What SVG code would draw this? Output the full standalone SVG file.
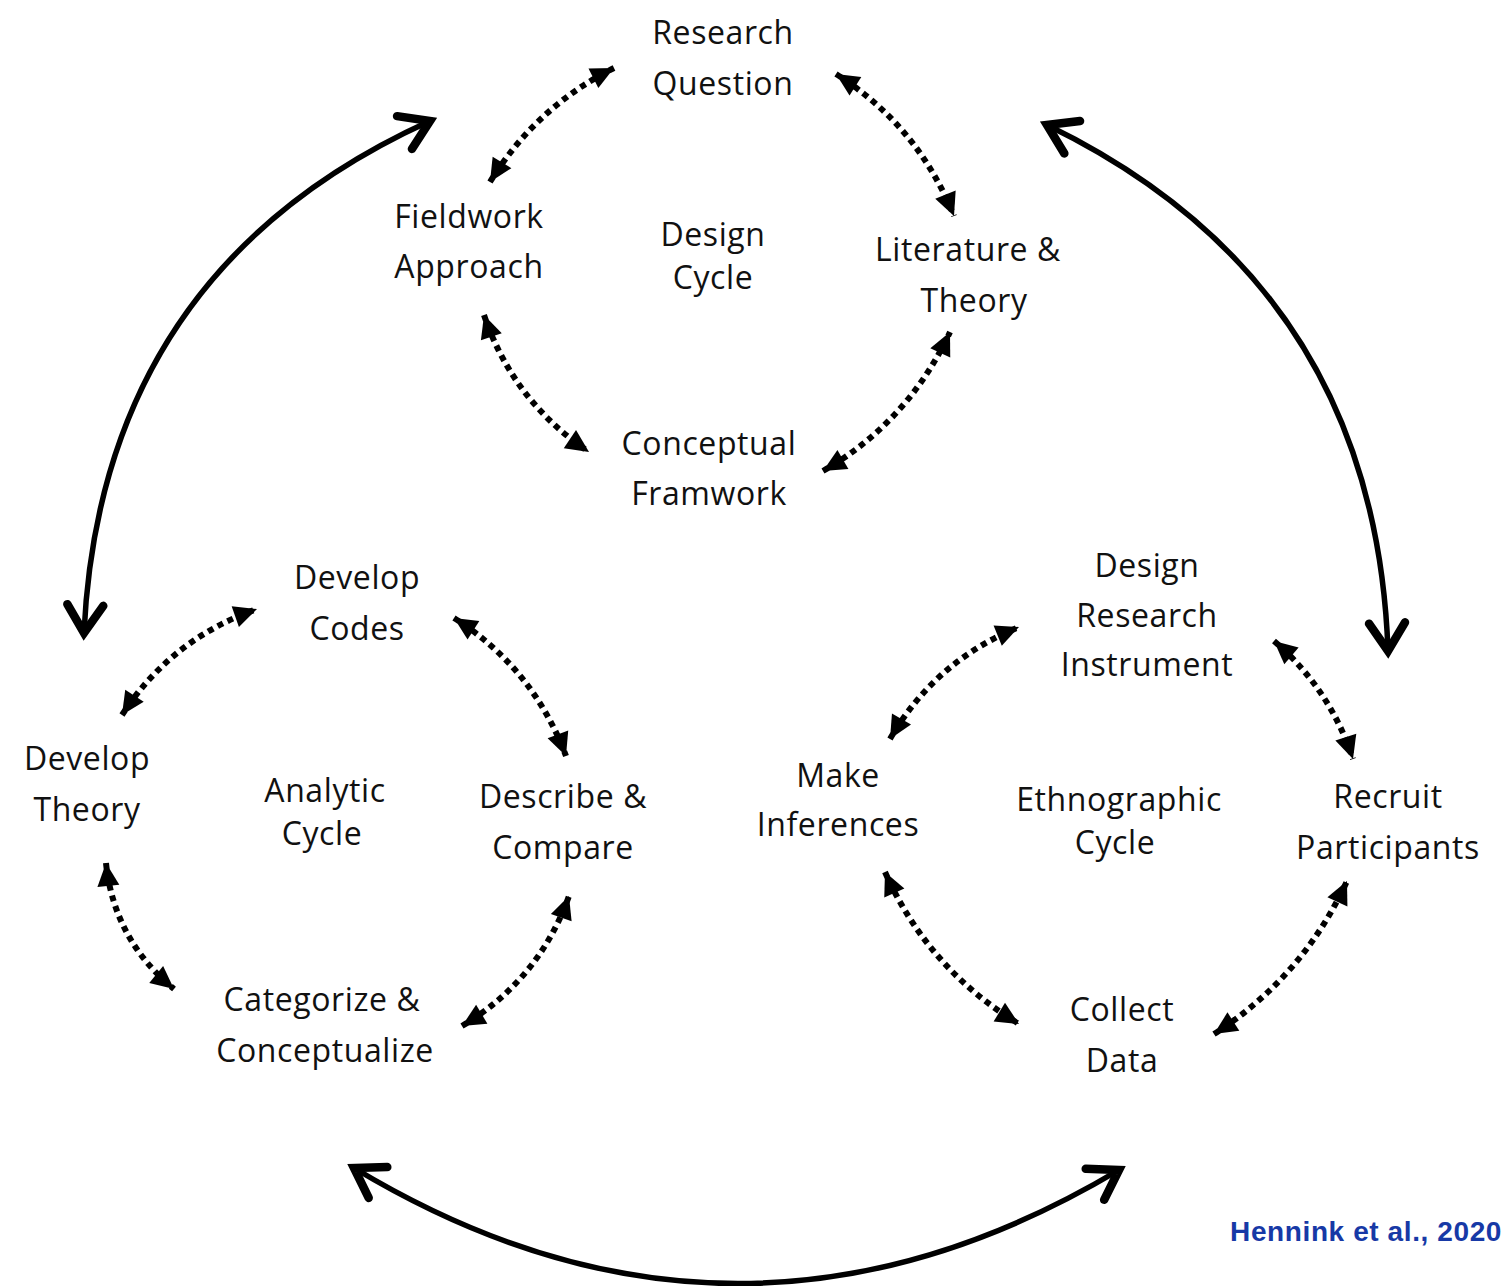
<svg xmlns="http://www.w3.org/2000/svg" width="1504" height="1286" viewBox="0 0 1504 1286">
<style>
.t{font-family:"Open Sans","Noto Sans",sans-serif;font-size:32px;fill:#111;text-anchor:middle;letter-spacing:0.6px}
.d{fill:none;stroke:#000;stroke-width:6;stroke-dasharray:6 5;marker-start:url(#tri);marker-end:url(#tri)}
.s{fill:none;stroke:#000;stroke-width:5.5;marker-start:url(#chev);marker-end:url(#chev)}
.cite{font-family:"Liberation Sans",Arial,sans-serif;font-weight:bold;font-size:28px;fill:#1739a6;text-anchor:end;letter-spacing:0.6px}
</style>
<defs>
<marker id="tri" markerUnits="userSpaceOnUse" viewBox="-26 -13 28 26" markerWidth="28" markerHeight="26" refX="0" refY="0" orient="auto-start-reverse" overflow="visible">
<path d="M-23,-11 L0,0 L-23,11 Z" fill="#000"/>
</marker>
<marker id="chev" markerUnits="userSpaceOnUse" viewBox="-40 -30 46 60" markerWidth="46" markerHeight="60" refX="0" refY="0" orient="auto-start-reverse" overflow="visible">
<path d="M-28,-18 L0,0 L-28,18" fill="none" stroke="#000" stroke-width="8.5" stroke-linejoin="miter" stroke-linecap="round"/>
</marker>
</defs>
<rect width="1504" height="1286" fill="#fff"/>
<g id="connectors">
<path class="s" d="M430,121 Q101,270 84,633"/>
<path class="s" d="M1047,125 Q1375,284 1388,651"/>
<path class="s" d="M354,1168 Q736,1398 1119,1170"/>
<path class="d" d="M490,182 Q536,107 614,68"/>
<path class="d" d="M836,74 Q918,126 954,216"/>
<path class="d" d="M484,315 Q513,401 589,452"/>
<path class="d" d="M823,471 Q908,422 950,332"/>
<path class="d" d="M122,715 Q171,639 257,609"/>
<path class="d" d="M454,618 Q533,668 566,756"/>
<path class="d" d="M106,863 Q114,940 174,989"/>
<path class="d" d="M462,1026 Q539,980 569,896"/>
<path class="d" d="M890,739 Q935,661 1019,627"/>
<path class="d" d="M1274,641 Q1330,689 1353,759"/>
<path class="d" d="M885,872 Q928,969 1019,1024"/>
<path class="d" d="M1214,1034 Q1303,977 1347,881"/>
</g>
<g id="research-question"><text class="t" x="723" y="44">Research</text><text class="t" x="723" y="95">Question</text></g>
<g id="fieldwork-approach"><text class="t" x="469" y="228">Fieldwork</text><text class="t" x="469" y="278">Approach</text></g>
<g id="design-cycle"><text class="t" x="713" y="246">Design</text><text class="t" x="713" y="289">Cycle</text></g>
<g id="literature-theory"><text class="t" x="968" y="261">Literature &amp;</text><text class="t" x="974" y="312">Theory</text></g>
<g id="conceptual-framework"><text class="t" x="709" y="455">Conceptual</text><text class="t" x="709" y="505">Framwork</text></g>
<g id="design-research-instrument"><text class="t" x="1147" y="577">Design</text><text class="t" x="1147" y="627">Research</text><text class="t" x="1147" y="676">Instrument</text></g>
<g id="make-inferences"><text class="t" x="838" y="787">Make</text><text class="t" x="838" y="836">Inferences</text></g>
<g id="ethnographic-cycle"><text class="t" x="1119" y="811">Ethnographic</text><text class="t" x="1115" y="854">Cycle</text></g>
<g id="recruit-participants"><text class="t" x="1388" y="808">Recruit</text><text class="t" x="1388" y="859">Participants</text></g>
<g id="collect-data"><text class="t" x="1122" y="1021">Collect</text><text class="t" x="1122" y="1072">Data</text></g>
<g id="develop-codes"><text class="t" x="357" y="589">Develop</text><text class="t" x="357" y="640">Codes</text></g>
<g id="develop-theory"><text class="t" x="87" y="770">Develop</text><text class="t" x="87" y="821">Theory</text></g>
<g id="analytic-cycle"><text class="t" x="325" y="802">Analytic</text><text class="t" x="322" y="845">Cycle</text></g>
<g id="describe-compare"><text class="t" x="563" y="808">Describe &amp;</text><text class="t" x="563" y="859">Compare</text></g>
<g id="categorize-conceptualize"><text class="t" x="322" y="1011">Categorize &amp;</text><text class="t" x="325" y="1062">Conceptualize</text></g>
<g id="citation"><text class="cite" x="1502" y="1241">Hennink et al., 2020</text></g>
</svg>
